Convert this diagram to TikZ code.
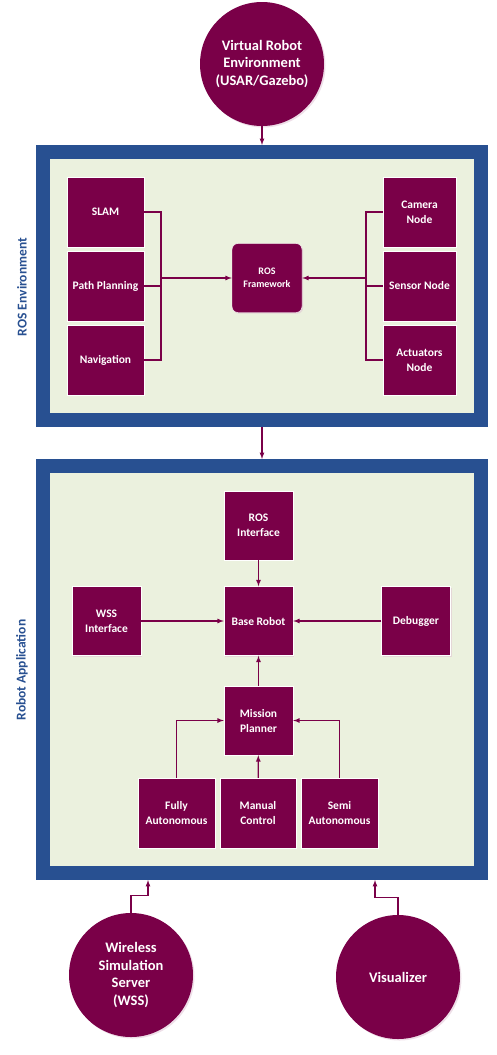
\documentclass[tikz,border=0pt]{standalone}
\usepackage{fontspec}
\setmainfont{Carlito}
\usepackage{tikz}
\usetikzlibrary{arrows, positioning, shadows}
\usepackage{xcolor}
\definecolor{plum}{RGB}{122,0,72}
\definecolor{frameblue}{RGB}{40,80,145}
\definecolor{panelfill}{RGB}{235,241,222}

\begin{document}
\begin{tikzpicture}[x=1pt,y=-1pt,node distance=74pt,on grid,>=latex]
    \tikzstyle{block}=[shape=rectangle,fill=plum,draw=white,thin,text=white,align=center,
        font=\bfseries\fontsize{11.5}{15}\selectfont,minimum width=77pt,minimum height=70pt,inner sep=1pt,
        drop shadow={fill=plum!25,shadow xshift=1.2pt,shadow yshift=-1.2pt}]
    \tikzstyle{ext}=[shape=circle,fill=plum,text=white,align=center,minimum size=124pt,inner sep=1pt,
        font=\bfseries\fontsize{14.5}{17.5}\selectfont,
        drop shadow={fill=plum!25,shadow xshift=1.5pt,shadow yshift=-1.5pt}]
    \tikzstyle{panel}=[shape=rectangle,fill=panelfill,draw=frameblue,line width=14pt,minimum width=438pt]
    \tikzstyle{side}=[rotate=90,text=frameblue,font=\bfseries\fontsize{13.5}{16}\selectfont]
    \tikzstyle{link}=[color=plum,line width=1.2pt]

    \useasboundingbox (0,0) rectangle (497,1055);

    % outer frames
    \node[panel,minimum height=268pt] (ROSEnv) at (262,286) {};
    \node[panel,minimum height=407pt] (RobApp) at (262,669.5) {};
    \node[side] (L1) at (22,287) {ROS Environment};
    \node[side] (L2) at (22,670) {Robot Application};

    % external parts
    \node[ext] (VRE) at (262,64) {Virtual Robot\\Environment\\(USAR/Gazebo)};
    \node[ext] (WSS) at (131,975) {Wireless\\Simulation\\Server\\(WSS)};
    \node[ext] (VIS) at (398,977) {Visualizer};

    % ROS environment
    \node[block] (SLAM) at (105.5,212) {SLAM};
    \node[block,below=of SLAM] (PP) {Path Planning};
    \node[block,below=of PP] (NAV) {Navigation};
    \node[block,minimum width=70pt,minimum height=69pt,rounded corners=6pt,
          font=\bfseries\fontsize{10}{13.5}\selectfont] (ROSF) at (267,278) {ROS\\Framework};
    \node[block,minimum width=73pt] (CAM) at (419.5,212) {Camera\\Node};
    \node[block,minimum width=73pt,below=of CAM] (SEN) {Sensor Node};
    \node[block,minimum width=73pt,below=of SEN] (ACT) {Actuators\\Node};
    \coordinate (LJ) at (161,278);
    \coordinate (RJ) at (366,278);

    % robot application
    \node[block,minimum width=69pt,minimum height=69pt] (RI) at (258.5,525.5) {ROS\\Interface};
    \node[block,minimum width=69pt,minimum height=69pt,below=95.5pt of RI] (BR) {Base Robot};
    \node[block,minimum width=69pt,minimum height=69pt,below=99.5pt of BR] (MP) {Mission\\Planner};
    \node[block,minimum width=69pt,minimum height=69pt] (WI) at (106.5,621) {WSS\\Interface};
    \node[block,minimum width=69pt,minimum height=69pt] (DBG) at (416,621) {Debugger};
    \node[block,font=\bfseries\fontsize{11.5}{15}\selectfont] (FA) at (176.5,813) {Fully\\Autonomous};
    \node[block,minimum width=76pt,font=\bfseries\fontsize{11.5}{15}\selectfont] (MC) at (258,813) {Manual\\Control};
    \node[block,font=\bfseries\fontsize{11.5}{15}\selectfont] (SA) at (339.5,813) {Semi\\Autonomous};
    \coordinate (WIn) at (148,880);
    \coordinate (VIn) at (375,880);

    \path[link,draw]
    (SLAM.east) -- (SLAM.east -| LJ) -- (NAV.east -| LJ) -- (NAV.east)
    (PP.east) -- (PP.east -| LJ)
    (CAM.west) -- (CAM.west -| RJ) -- (ACT.west -| RJ) -- (ACT.west)
    (SEN.west) -- (SEN.west -| RJ)
    ;

    \path[link,->]
    (VRE) edge (ROSEnv.north)
    (ROSEnv.south) edge (RobApp.north)
    (LJ) edge (ROSF.west)
    (RJ) edge (ROSF.east)
    (RI) edge (BR)
    (WI) edge (BR)
    (DBG) edge (BR)
    (MP) edge (BR)
    (MC) edge (MP)
    ;
    \draw[link,->] (FA.north) |- (MP.west);
    \draw[link,->] (SA.north) |- (MP.east);
    \draw[link,->] (WSS.north) -- ++(0,-17) -| (WIn);
    \draw[link,->] (VIS.north) -- ++(0,-17) -| (VIn);
\end{tikzpicture}
\end{document}
